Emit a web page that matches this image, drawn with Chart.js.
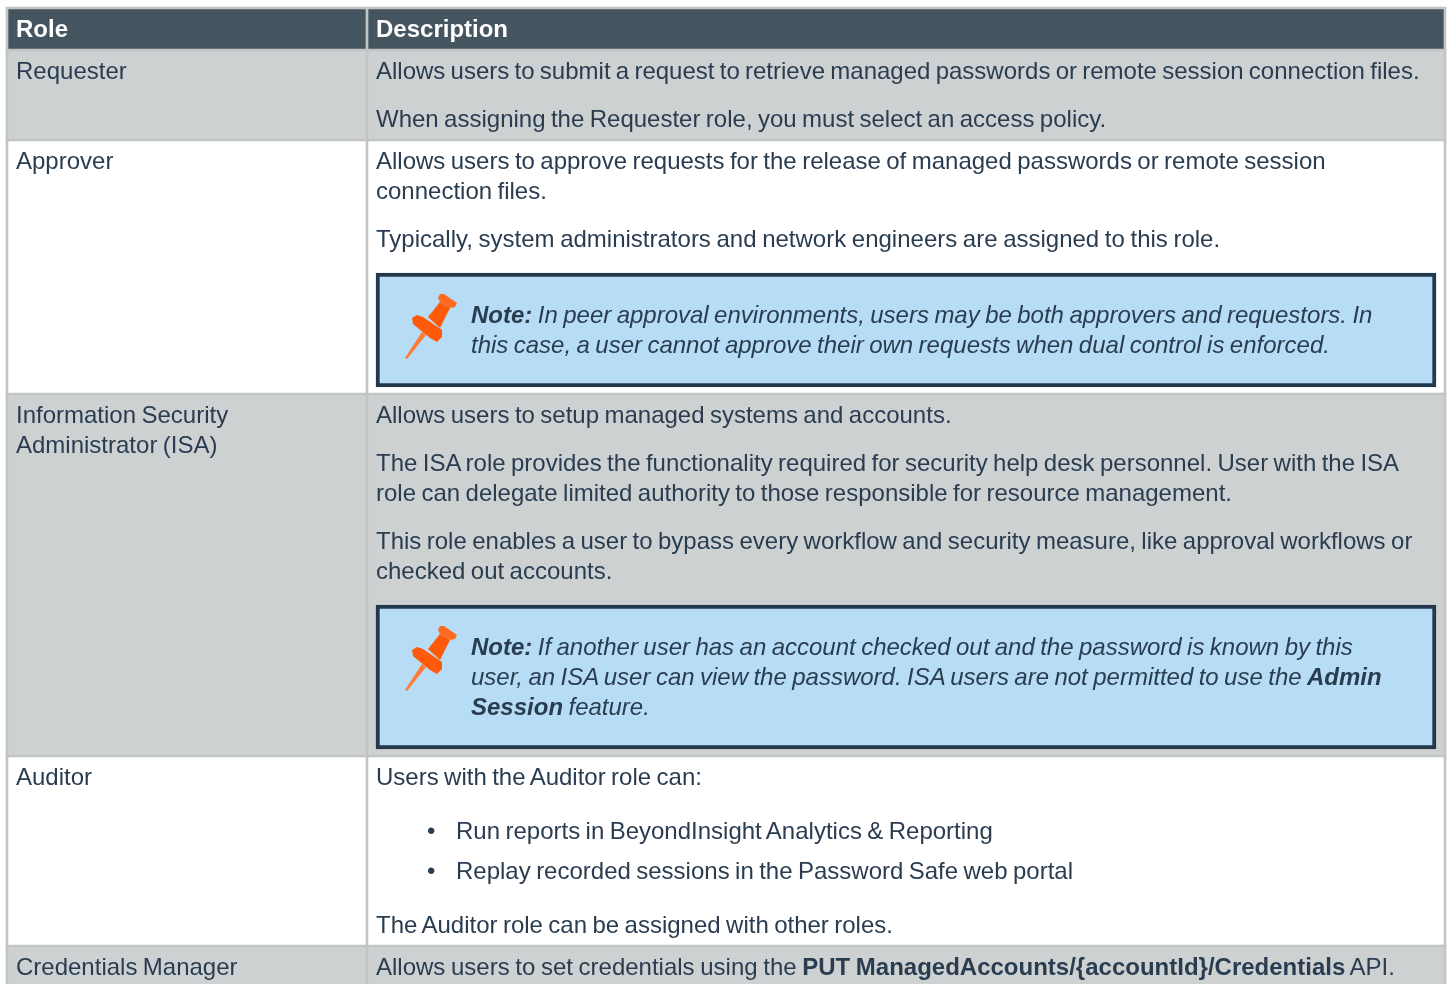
<!DOCTYPE html>
<html lang="en">
<head>
  <meta charset="UTF-8" />
  <title>Password Safe roles</title>
  <script src="https://cdn.jsdelivr.net/npm/chart.js"></script>
  <style>
    html, body { margin: 0; padding: 0; background: #fff; overflow: hidden; }
    #wrap { position: relative; width: 1447px; height: 984px; overflow: hidden; }
    #roles { position: absolute; left: 0; top: 0; }
    .t {
      position: absolute;
      white-space: nowrap;
      font-family: 'Liberation Sans', Arial, sans-serif;
      font-size: 24px;
      line-height: 30px;
      word-spacing: -1.25px;
      color: #2a3d50;
    }
    .head { color: #fff; font-weight: 700; }
    .note { font-style: italic; }
    .pin { position: absolute; left: 395px; width: 75px; height: 80px; filter: blur(0.4px); }
  </style>
</head>
<body>
  <div id="wrap">
    <canvas id="roles" width="1447" height="984"></canvas>

    <div class="t head" style="left:16px;top:14px">Role</div>
    <div class="t head" style="left:376px;top:14px">Description</div>

    <div class="t" style="left:16px;top:56px">Requester</div>
    <div class="t" style="left:376px;top:56px;word-spacing:-1.4px">Allows users to submit a request to retrieve managed passwords or remote session connection files.</div>
    <div class="t" style="left:376px;top:104px">When assigning the Requester role, you must select an access policy.</div>

    <div class="t" style="left:16px;top:146px">Approver</div>
    <div class="t" style="left:376px;top:146px">Allows users to approve requests for the release of managed passwords or remote session<br>connection files.</div>
    <div class="t" style="left:376px;top:224px;word-spacing:-1.05px">Typically, system administrators and network engineers are assigned to this role.</div>
    <div class="t note" style="left:471px;top:300px"><b>Note:</b> In peer approval environments, users may be both approvers and requestors. In<br>this case, a user cannot approve their own requests when dual control is enforced.</div>

    <div class="t" style="left:16px;top:400px">Information Security<br>Administrator (ISA)</div>
    <div class="t" style="left:376px;top:400px">Allows users to setup managed systems and accounts.</div>
    <div class="t" style="left:376px;top:448px">The ISA role provides the functionality required for security help desk personnel. User with the ISA<br>role can delegate limited authority to those responsible for resource management.</div>
    <div class="t" style="left:376px;top:526px">This role enables a user to bypass every workflow and security measure, like approval workflows or<br>checked out accounts.</div>
    <div class="t note" style="left:471px;top:632px"><b>Note:</b> If another user has an account checked out and the password is known by this<br>user, an ISA user can view the password. ISA users are not permitted to use the <b>Admin</b><br><b>Session</b> feature.</div>

    <div class="t" style="left:16px;top:762px">Auditor</div>
    <div class="t" style="left:376px;top:762px">Users with the Auditor role can:</div>
    <div class="t" style="left:427px;top:816px">•</div>
    <div class="t" style="left:456px;top:816px">Run reports in BeyondInsight Analytics &amp; Reporting</div>
    <div class="t" style="left:427px;top:856px">•</div>
    <div class="t" style="left:456px;top:856px">Replay recorded sessions in the Password Safe web portal</div>
    <div class="t" style="left:376px;top:910px">The Auditor role can be assigned with other roles.</div>

    <div class="t" style="left:16px;top:952px">Credentials Manager</div>
    <div class="t" style="left:376px;top:952px;word-spacing:-1.05px">Allows users to set credentials using the <b>PUT ManagedAccounts/{accountId}/Credentials</b> API.</div>

    <svg width="0" height="0" style="position:absolute">
      <symbol id="pinIcon" viewBox="0 0 75 80">
        <path d="M10 73 L27 47 L31 50 L12 74 Z" fill="#ff7a33" />
        <path d="M17 33 L22 30 L28 32 L47 45 L47 52 L42 57 L35 53 L18 39 Z" fill="#ff5a0a" />
        <path d="M33 32 L45 17 L55 23 L45 43 Z" fill="#ff5a0a" />
        <path d="M45 9 L49 9 L62 18 L60 22 L55 23 L45 17 L43 13 Z" fill="#ff6a20" />
      </symbol>
    </svg>
    <svg class="pin" style="top:285px"><use href="#pinIcon" /></svg>
    <svg class="pin" style="top:617px"><use href="#pinIcon" /></svg>
  </div>

  <script>
    // In page pixels
    const roles = ['Requester', 'Approver', 'Information Security Administrator (ISA)', 'Auditor', 'Credentials Manager'];
    const rowEdges = [8, 50, 140, 394, 756, 946, 984];
    const columnEdges = [7, 367, 1445];
    const noteTops = [273, 605];
    const noteBottoms = [387, 749];
    const noteLeft = 376;
    const noteRight = 1436;

    const headerColor = '#455560';
    const bandColors = ['#cdd1d2', '#ffffff', '#cdd1d2', '#ffffff', '#cdd1d2'];
    const gridColor = '#c3c5c5';

    // One floating bar, left/right on x and top/bottom on y
    function box(label, left, right, top, bottom, color, extra) {
      return Object.assign({
        label: label,
        data: [{ x: (left + right) / 2, y: [top, bottom] }],
        barThickness: right - left,
        backgroundColor: color,
        borderWidth: 0,
        grouped: false
      }, extra);
    }

    const datasets = [];
    const tableLeft = columnEdges[0];
    const tableRight = columnEdges[2];

    datasets.push(box('Header', tableLeft, tableRight, rowEdges[0], rowEdges[1], headerColor));
    roles.forEach(function (role, i) {
      datasets.push(box(role, tableLeft, tableRight, rowEdges[i + 1], rowEdges[i + 2], bandColors[i]));
    });
    // Grid lines
    rowEdges.slice(0, -1).forEach(function (edge) {
      datasets.push(box('Row line', tableLeft - 1, tableRight + 1, edge - 1, edge + 1, gridColor));
    });
    columnEdges.forEach(function (edge) {
      datasets.push(box('Column line', edge - 1, edge + 1, rowEdges[0], rowEdges[6], gridColor));
    });
    // Note boxes
    noteTops.forEach(function (top, i) {
      datasets.push(box('Note', noteLeft, noteRight, top, noteBottoms[i], '#b6dcf6', {
        borderColor: '#24384c',
        borderWidth: 4,
        borderSkipped: false
      }));
    });

    // Chart.js paints the first dataset last, so flip to keep notes on top
    datasets.reverse();

    new Chart(document.getElementById('roles'), {
      type: 'bar',
      data: { datasets: datasets },
      options: {
        responsive: false,
        animation: false,
        events: [],
        layout: { padding: 0 },
        plugins: { legend: { display: false }, tooltip: { enabled: false } },
        scales: {
          x: { type: 'linear', min: 0, max: 1447, offset: false, display: false },
          y: { type: 'linear', min: 0, max: 984, reverse: true, display: false }
        }
      }
    });
  </script>
</body>
</html>
